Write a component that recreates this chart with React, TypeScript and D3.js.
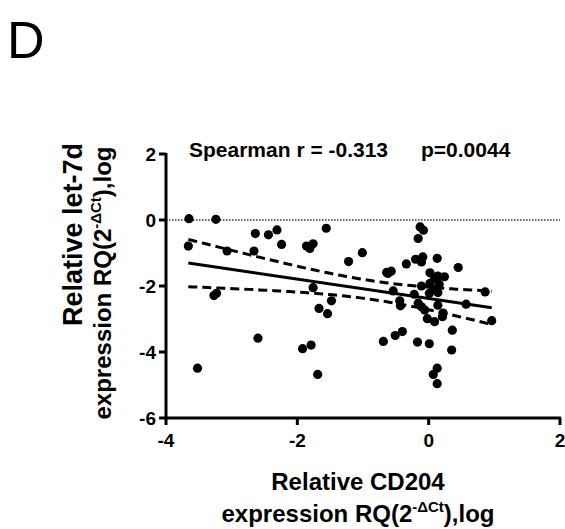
import * as d3 from "d3";

// Relative CD204 expression (x) and let-7d expression (y), log RQ
const cd204 = [
  -3.65, -3.24, -3.66, -3.07, -2.64, -2.44, -2.31, -2.66, -2.24, -3.27,
  -3.23, -1.56, -1.86, -1.81, -1.76, -1.01, -1.22, -0.64, -1.76, -1.48,
  -1.67, -1.54, -2.6, -1.92, -1.79, -3.52, -1.69, -0.69, -0.51, -0.4,
  -0.17, 0.01, 0.35, 0.36, -0.02, 0.09, 0.21, 0.96, 0.13, 0.07,
  0.13, -0.13, -0.08, -0.16, -0.2, -0.09, -0.11, 0.13, -0.34, 0.45,
  -0.62, -0.57, 0.02, 0.14, 0.24, 0.09, -0.11, 0.02, 0.16, 0.07,
  0.86, -0.54, -0.22, -0.44, -0.43, -0.16, -0.11, -0.06, 0.14, 0.57,
  0.01, 0.22, 0.14,
];
const let7d = [
  0.04, 0.02, -0.79, -0.94, -0.41, -0.45, -0.3, -0.94, -0.74, -2.29,
  -2.22, -0.25, -0.79, -0.86, -0.72, -0.99, -1.26, -1.59, -2.05, -2.45,
  -2.68, -2.84, -3.58, -3.9, -3.79, -4.49, -4.68, -3.68, -3.5, -3.38,
  -3.7, -3.75, -3.94, -3.34, -2.99, -3.08, -2.93, -3.05, -4.49, -4.68,
  -4.96, -0.21, -0.31, -0.56, -1.19, -1.12, -1.27, -1.16, -1.33, -1.44,
  -1.62, -1.55, -1.6, -1.7, -1.72, -1.76, -2.0, -1.92, -1.95, -2.1,
  -2.18, -2.15, -2.25, -2.45, -2.6, -2.52, -2.63, -2.73, -2.58, -2.55,
  -2.22, -2.82, -2.2,
];
const xTicks = [-4, -2, 0, 2];
const yTicks = [2, 0, -2, -4, -6];
const statText = ["Spearman r = -0.313", "p=0.0044"];
const tCrit = 1.99; // 95% two-sided

const font = "'Liberation Sans', Arial, sans-serif";

export default function App() {
  const W = 565, H = 529;
  const x = d3.scaleLinear().domain([-4, 2]).range([166, 560]);
  const y = d3.scaleLinear().domain([-6, 2]).range([418, 154]);

  // linear regression + 95% confidence band
  const n = cd204.length;
  const mx = d3.mean(cd204)!, my = d3.mean(let7d)!;
  const sxx = d3.sum(cd204, (v) => (v - mx) ** 2);
  const sxy = d3.sum(cd204, (v, i) => (v - mx) * (let7d[i] - my));
  const slope = sxy / sxx;
  const icpt = my - slope * mx;
  const sse = d3.sum(cd204, (v, i) => (let7d[i] - (icpt + slope * v)) ** 2);
  const se = Math.sqrt(sse / (n - 2));
  const [x0, x1] = d3.extent(cd204) as [number, number];
  const xs = d3.range(0, 61).map((i) => x0 + ((x1 - x0) * i) / 60);
  const half = (v: number) => tCrit * se * Math.sqrt(1 / n + (v - mx) ** 2 / sxx);
  const line = d3
    .line<[number, number]>()
    .x((d) => x(d[0]))
    .y((d) => y(d[1]));
  const fitPath = line([[x0, icpt + slope * x0], [x1, icpt + slope * x1]]);
  const upPath = line(xs.map((v) => [v, icpt + slope * v + half(v)]));
  const loPath = line(xs.map((v) => [v, icpt + slope * v - half(v)]));

  return (
    <svg
      width={W}
      height={H}
      style={{ position: "absolute", left: 0, top: 0, background: "#fff" }}
      fontFamily={font}
    >
      <text x={7} y={58} fontSize={52}>D</text>

      {/* stats */}
      <text x={189} y={157} fontSize={21} fontWeight="bold">{statText[0]}</text>
      <text x={421} y={157} fontSize={21} fontWeight="bold">{statText[1]}</text>

      {/* zero reference */}
      <line x1={x(-4)} x2={x(2)} y1={y(0)} y2={y(0)} stroke="#333" strokeWidth={1.4} strokeDasharray="1.5,1.5" />

      {/* axes */}
      <g stroke="#000" strokeWidth={3} fill="none">
        <line x1={x(-4)} x2={x(-4)} y1={y(2) - 1} y2={y(-6) + 1.5} />
        <line x1={x(-4) - 1.5} x2={x(2) + 1} y1={y(-6)} y2={y(-6)} />
        {yTicks.map((t) => (
          <line key={"yt" + t} x1={x(-4) - 7} x2={x(-4)} y1={y(t)} y2={y(t)} />
        ))}
        {xTicks.map((t) => (
          <line key={"xt" + t} x1={x(t)} x2={x(t)} y1={y(-6)} y2={y(-6) + 7} />
        ))}
      </g>
      <g fontSize={19} fontWeight="bold">
        {yTicks.map((t) => (
          <text key={"yl" + t} x={x(-4) - 10} y={y(t) + 7} textAnchor="end">{t}</text>
        ))}
        {xTicks.map((t) => (
          <text key={"xl" + t} x={x(t)} y={y(-6) + 29} textAnchor="middle">{t}</text>
        ))}
      </g>

      {/* fit and confidence band */}
      <path d={fitPath!} stroke="#000" strokeWidth={3} fill="none" />
      <path d={upPath!} stroke="#000" strokeWidth={3} fill="none" strokeDasharray="9,5" />
      <path d={loPath!} stroke="#000" strokeWidth={3} fill="none" strokeDasharray="9,5" />

      {/* points */}
      {cd204.map((v, i) => (
        <circle key={i} cx={x(v)} cy={y(let7d[i])} r={4.6} fill="#000" />
      ))}

      {/* axis titles */}
      <g fontSize={24} fontWeight="bold" textAnchor="middle">
        <text x={358} y={490}>Relative CD204</text>
        <text x={358} y={522}>
          expression RQ(2<tspan fontSize={15} dy={-10}>-ΔCt</tspan>
          <tspan dy={10}>),log</tspan>
        </text>
        <g transform="translate(82,143) rotate(-90)">
          <text x={0} y={0} fontSize={27} textAnchor="end">Relative let-7d</text>
        </g>
        <g transform="translate(111,283) rotate(-90)">
          <text x={0} y={0}>
            expression RQ(2<tspan fontSize={15} dy={-10}>-ΔCt</tspan>
            <tspan dy={10}>),log</tspan>
          </text>
        </g>
      </g>
    </svg>
  );
}
